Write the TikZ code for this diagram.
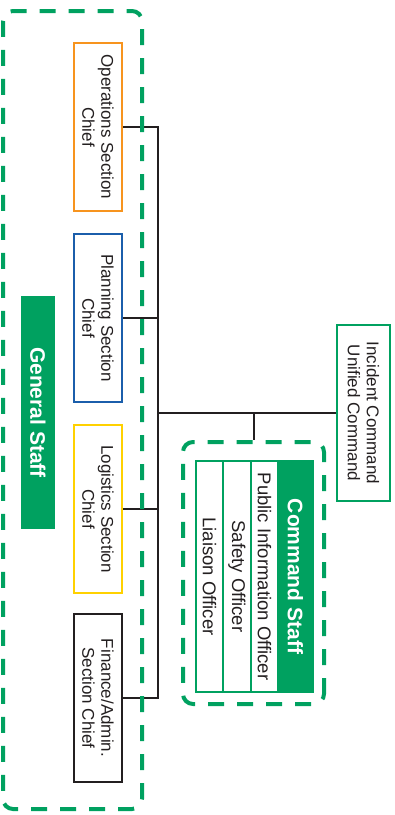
\documentclass[tikz,border=0pt]{standalone}
\usepackage{fontspec}
\setmainfont{Liberation Sans}
\pgfdeclarelayer{background}
\pgfsetlayers{background,main}
\definecolor{icsgreen}{HTML}{00A160}
\definecolor{opsorange}{HTML}{F7941E}
\definecolor{planblue}{HTML}{1B5EAB}
\definecolor{logyellow}{HTML}{FFD100}
\definecolor{dark}{HTML}{231F20}
\begin{document}
\begin{tikzpicture}[x=1pt,y=-1pt,
  box/.style={draw, line width=2pt, rotate=-90, inner sep=0pt, align=center,
    text=dark, font=\fontsize{17}{19}\selectfont},
  secbox/.style={box, minimum width=168pt, minimum height=48pt},
  dashbox/.style={draw=icsgreen, line width=4pt, dash pattern=on 16pt off 13pt,
    rounded corners=10pt, rotate=-90, inner sep=0pt},
  staffcol/.style={draw=icsgreen, line width=2pt, rotate=-90, inner sep=0pt,
    minimum width=231pt, text=dark, font=\fontsize{18.5}{20}\selectfont},
  banner/.style={fill=icsgreen, rotate=-90, inner sep=0pt, text=white,
    font=\bfseries\fontsize{21}{23}\selectfont},
  conn/.style={draw=dark, line width=2pt}]
\useasboundingbox (0,0) rectangle (395,815);

% General staff sections
\node[secbox, draw=opsorange] (ops) at (98,127) {Operations Section\\Chief};
\node[secbox, draw=planblue] (plan) at (98,318) {Planning Section\\Chief};
\node[secbox, draw=logyellow] (log) at (98,509) {Logistics Section\\Chief};
\node[secbox, draw=dark] (fin) at (98,698) {Finance/Admin.\\Section Chief};

\node[banner, minimum width=233pt, minimum height=34pt] (gsbar) at (38,412.5) {General Staff};

% Incident command
\node[box, draw=icsgreen, minimum width=176pt, minimum height=53pt] (ic) at (363.5,413) {Incident Command\\Unified Command};

% Command staff
\node[staffcol, minimum height=27pt] (lia) at (209.5,576.5) {Liaison Officer};
\node[staffcol, minimum height=28pt] (saf) at (237,576.5) {Safety Officer};
\node[staffcol, minimum height=27pt] (pio) at (264.5,576.5) {Public Information Officer};
\node[banner, draw=icsgreen, line width=2pt, minimum width=231pt, minimum height=35pt] (csbar) at (295.5,576.5) {Command Staff};

% dashed group boxes
\node[dashbox, minimum width=262pt, minimum height=141pt] (csd) at (253.5,573) {};
\node[dashbox, minimum width=798pt, minimum height=139pt] (gsd) at (72.5,410) {};

% connectors
\begin{pgfonlayer}{background}
\coordinate (j) at (158,413);
\draw[conn] (ops.north) -- (ops.north -| j) -- (fin.north -| j) -- (fin.north);
\draw[conn] (plan.north) -- (plan.north -| j);
\draw[conn] (log.north) -- (log.north -| j);
\draw[conn] (ic.south) -- (j);
\draw[conn] (csd.west) -- (csd.west |- j);
\end{pgfonlayer}
\end{tikzpicture}
\end{document}
